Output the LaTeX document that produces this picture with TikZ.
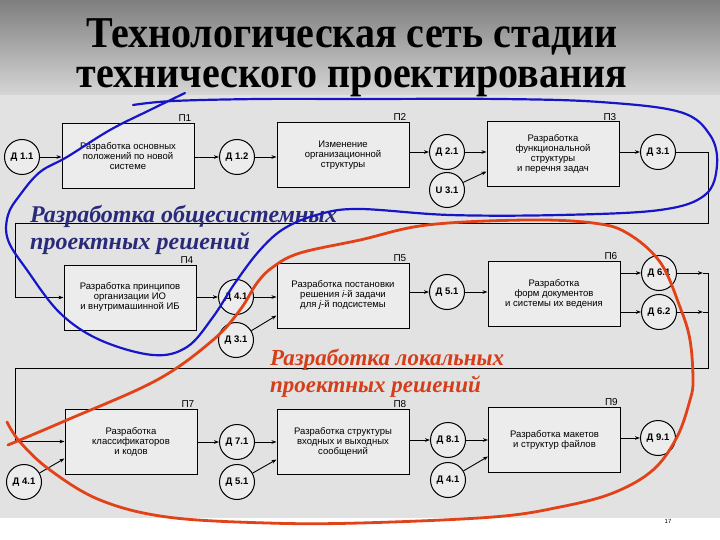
\documentclass[tikz,border=0pt]{standalone}
\usepackage{fontspec}
\setmainfont{Liberation Serif}
\setsansfont{Liberation Sans}
\usetikzlibrary{arrows.meta}
\definecolor{scan}{RGB}{226,226,226}
\definecolor{boxfill}{RGB}{236,236,236}
\definecolor{markblue}{RGB}{22,22,200}
\definecolor{markred}{RGB}{226,66,24}
\definecolor{capblue}{RGB}{42,42,122}
\definecolor{capred}{RGB}{214,62,26}

\begin{document}
\begin{tikzpicture}[x=1pt,y=-1pt,>={Stealth[length=5pt,width=3.6pt]},
  proc/.style={draw,line width=1pt,fill=boxfill,minimum width=132pt,minimum height=65pt,
    align=center,inner sep=1pt,font=\sffamily\fontsize{9.5}{10}\selectfont},
  doc/.style={draw,circle,line width=1pt,fill=boxfill,minimum size=35pt,inner sep=0pt,
    font=\sffamily\bfseries\fontsize{9.5}{10}\selectfont},
  tag/.style={anchor=south east,xshift=-2pt,inner sep=1pt,font=\sffamily\fontsize{10}{12}\selectfont},
  flow/.style={->,line width=0.9pt},
  wire/.style={line width=0.9pt},
  capt/.style={anchor=base west,align=left,inner sep=0pt,font=\itshape\bfseries\fontsize{24}{27}\selectfont}]
\useasboundingbox (0,0) rectangle (720,540);
\fill[white] (0,0) rectangle (720,540);
\shade[top color={rgb,255:red,126;green,126;blue,126},bottom color={rgb,255:red,214;green,214;blue,214}] (0,0) rectangle (720,95);
\fill[scan] (0,95) rectangle (720,518);
\node[inner sep=0pt,font=\bfseries\fontsize{40}{36}\selectfont] (title) at (352,58)
  {\scalebox{1}[1.1]{\parbox{640pt}{\centering Технологическая сеть стадии\\технического проектирования}}};

\node[proc,label={[tag]north east:П1}] (p1) at (128,156) {Разработка основных\\положений по новой\\системе};
\node[proc,label={[tag]north east:П2}] (p2) at (343,155) {Изменение\\организационной\\структуры};
\node[proc,label={[tag]north east:П3}] (p3) at (553,154.5) {Разработка\\функциональной\\структуры\\и перечня задач};
\node[proc,label={[tag]north east:П4}] (p4) at (130,297.5) {Разработка принципов\\организации ИО\\и внутримашинной ИБ};
\node[proc,label={[tag]north east:П5}] (p5) at (343,295.5) {Разработка постановки\\решения {\itshape i}-й задачи\\для {\itshape j}-й подсистемы};
\node[proc,label={[tag]north east:П6}] (p6) at (554,294) {Разработка\\форм документов\\и системы их ведения};
\node[proc,label={[tag]north east:П7}] (p7) at (131,441.5) {Разработка\\классификаторов\\и кодов};
\node[proc,label={[tag]north east:П8}] (p8) at (343,441.5) {Разработка структуры\\входных и выходных\\сообщений};
\node[proc,label={[tag]north east:П9}] (p9) at (554.5,439.5) {Разработка макетов\\и структур файлов};

\node[doc] (d11) at (22,157) {Д 1.1};
\node[doc] (d12) at (237,157) {Д 1.2};
\node[doc] (d21) at (447,152) {Д 2.1};
\node[doc] (u31) at (447,190) {U 3.1};
\node[doc] (d31) at (658,152) {Д 3.1};
\node[doc] (d41) at (236,297) {Д 4.1};
\node[doc] (d31b) at (236,340) {Д 3.1};
\node[doc] (d51) at (447,292) {Д 5.1};
\node[doc] (d61) at (659,273) {Д 6.1};
\node[doc] (d62) at (659,312) {Д 6.2};
\node[doc] (d71) at (237,442) {Д 7.1};
\node[doc] (d51b) at (237,482) {Д 5.1};
\node[doc] (d81) at (448,440) {Д 8.1};
\node[doc] (d41b) at (448,480) {Д 4.1};
\node[doc] (d91) at (658,438) {Д 9.1};
\node[doc] (d41c) at (24,482) {Д 4.1};

\coordinate (r1) at (708,223);
\coordinate (l1) at (15,223);
\coordinate (t61) at (703,273);
\coordinate (t62) at (703,312);
\coordinate (r2) at (708,368);
\coordinate (l2) at (15,368);

\draw[flow] (d11) -- (d11 -| p1.west);
\draw[flow] (p1.east |- d12) -- (d12);
\draw[flow] (d12) -- (d12 -| p2.west);
\draw[flow] (p2.east |- d21) -- (d21);
\draw[flow] (d21) -- (d21 -| p3.west);
\draw[flow] (u31) -- ([yshift=-17pt]p3.west);
\draw[flow] (p3.east |- d31) -- (d31);
\draw[wire] (d31.east) -| (r1) -- (l1);
\draw[flow] (l1) |- (p4.west);

\draw[flow] (p4.east |- d41) -- (d41);
\draw[flow] (d41) -- (d41 -| p5.west);
\draw[flow] (d31b) -- ([yshift=-20pt]p5.west);
\draw[flow] (p5.east |- d51) -- (d51);
\draw[flow] (d51) -- (d51 -| p6.west);
\draw[flow] (p6.east |- d61) -- (d61);
\draw[flow] (p6.east |- d62) -- (d62);
\draw[flow] (d61) -- (t61);
\draw[flow] (d62) -- (t62);
\draw[wire] (t61) -| (r2) -- (l2);
\draw[wire] (t62) -- (t62 -| r2);
\draw[flow] (l2) |- (p7.west);

\draw[flow] (d41c) -- ([yshift=-17pt]p7.west);
\draw[flow] (p7.east |- d71) -- (d71);
\draw[flow] (d71) -- (d71 -| p8.west);
\draw[flow] (d51b) -- ([yshift=-18pt]p8.west);
\draw[flow] (p8.east |- d81) -- (d81);
\draw[flow] (d81) -- (d81 -| p9.west);
\draw[flow] (d41b) -- ([yshift=-17pt]p9.west);
\draw[flow] (p9.east |- d91) -- (d91);

\node[capt,text=capblue] (capgen) at (30,249) {Разработка общесистемных\\проектных решений};
\node[capt,text=capred,font=\itshape\bfseries\fontsize{23}{27}\selectfont] (caploc) at (270,392) {Разработка локальных\\проектных решений};

\draw[markblue,line width=2.2pt,line cap=round] plot[smooth,tension=0.6] coordinates {
  (133,105) (173,101) (260,99) (360,99) (500,99) (600,102) (680,112) (710,135) (717,165)
  (705,195) (660,210) (560,215) (450,215) (360,209) (320,214) (285,228) (260,250)
  (235,283) (213,317) (187,347) (153,355) (100,340) (60,313) (27,270) (8,240) (8,215)
  (20,195) (40,172) (67,157) (110,130) (150,110) (185,93)};
\draw[markred,line width=2.8pt,line cap=round] plot[smooth,tension=0.6] coordinates {
  (8,445) (67,420) (157,380) (213,340) (240,310) (257,283) (273,267) (300,253) (360,240)
  (427,225) (527,220) (593,223) (627,233) (660,262) (680,307) (690,340) (693,380)
  (690,400) (677,437) (653,470) (613,493) (560,507) (493,517) (360,523) (267,523)
  (167,517) (100,500) (50,470) (20,442) (7,422)};

\node[font=\sffamily\fontsize{6}{7}\selectfont,inner sep=0pt] (pageno) at (668,521) {17};
\end{tikzpicture}
\end{document}
